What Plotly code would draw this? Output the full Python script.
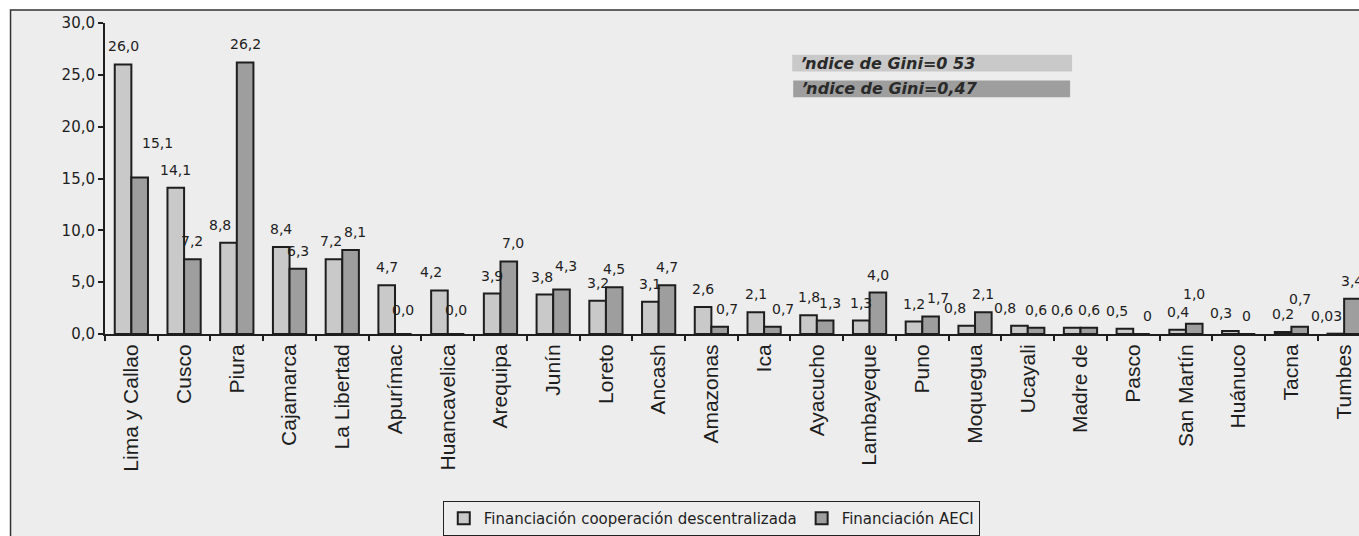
import plotly.graph_objects as go

# Regions (x axis categories)
regiones = [
    "Lima y Callao", "Cusco", "Piura", "Cajamarca", "La Libertad", "Apurímac",
    "Huancavelica", "Arequipa", "Junín", "Loreto", "Ancash", "Amazonas", "Ica",
    "Ayacucho", "Lambayeque", "Puno", "Moquegua", "Ucayali", "Madre de",
    "Pasco", "San Martín", "Huánuco", "Tacna", "Tumbes",
]

# Percent of financing, written as printed on each bar
coop_descentralizada = [
    "26,0", "14,1", "8,8", "8,4", "7,2", "4,7", "4,2", "3,9", "3,8", "3,2",
    "3,1", "2,6", "2,1", "1,8", "1,3", "1,2", "0,8", "0,8", "0,6", "0,5",
    "0,4", "0,3", "0,2", "0,03",
]
aeci = [
    "15,1", "7,2", "26,2", "6,3", "8,1", "0,0", "0,0", "7,0", "4,3", "4,5",
    "4,7", "0,7", "0,7", "1,3", "4,0", "1,7", "2,1", "0,6", "0,6", "0",
    "1,0", "0", "0,7", "3,4",
]

y_ticks = [0, 5, 10, 15, 20, 25, 30]

gini_textos = ["ŉdice de Gini=0 53", "ŉdice de Gini=0,47"]
series_nombres = ["Financiación cooperación descentralizada", "Financiación AECI"]


def to_num(labels):
    return [float(s.replace(",", ".")) for s in labels]


# ---- page geometry (pixels) ----
W, H = 1359, 536
L, R, T, B = 104.5, 0, 23, 199
PW, PH = W - L - R, H - T - B
CAT_PX = 52.75          # width of one category slot
BARGAP = 0.37
BAR_PX = CAT_PX * (1 - BARGAP) / 2
LABEL_GAP = 8           # space between bar top and its value label


def px_x(px):
    return (px - L) / PW


def px_y(py):
    return (H - B - py) / PH


# Value labels moved aside (dx, dy in px) where neighbours would collide
label_offsets = {
    (0, "Piura"): (-9, 0), (0, "Huancavelica"): (-8, 0),
    (0, "La Libertad"): (-3, 0), (0, "Junín"): (-3, 0),
    (0, "Moquegua"): (-12, 0),
    (0, "Ucayali"): (-14, 0), (0, "Madre de"): (-10, 0),
    (0, "Pasco"): (-8, 0), (0, "Huánuco"): (-9, 0), (0, "Tumbes"): (-9, 0),
    (1, "Lima y Callao"): (18, 16), (1, "La Libertad"): (4, 0),
    (1, "Apurímac"): (0, 6), (1, "Huancavelica"): (0, 6),
    (1, "Arequipa"): (4, 0), (1, "Junín"): (4, 5),
    (1, "Amazonas"): (7, 0), (1, "Ica"): (11, 0),
    (1, "Ayacucho"): (5, 0), (1, "Puno"): (7, 0), (1, "Pasco"): (6, 0),
    (1, "San Martín"): (0, 12), (1, "Tacna"): (0, 10),
}

LIGHT = "#c9c9c9"
DARK = "#9e9e9e"
INK = "#1e1e1e"
BG = "#ededed"

fig = go.Figure()
annotations = []
series = [
    (series_nombres[0], coop_descentralizada, LIGHT, -BAR_PX / 2),
    (series_nombres[1], aeci, DARK, BAR_PX / 2),
]
for k, (nombre, etiquetas, color, shift) in enumerate(series):
    valores = to_num(etiquetas)
    fig.add_trace(go.Bar(
        name=nombre,
        x=regiones,
        y=valores,
        marker=dict(color=color, line=dict(color=INK, width=2)),
    ))
    # value labels above each bar
    for reg, val, txt in zip(regiones, valores, etiquetas):
        dx, dy = label_offsets.get((k, reg), (0, 0))
        annotations.append(dict(
            x=reg, y=val, xref="x", yref="y",
            xshift=shift + dx, yshift=LABEL_GAP + dy,
            xanchor="center", yanchor="bottom",
            text=txt, showarrow=False,
            font=dict(family="DejaVu Sans", size=14, color=INK),
        ))

# Chart frame
shapes = [dict(
    type="rect", xref="paper", yref="paper", layer="below",
    x0=px_x(10), x1=px_x(W + 40), y0=px_y(H + 40), y1=px_y(10),
    fillcolor=BG, line=dict(color="#333333", width=1.5),
)]

# Gini index boxes
gini_boxes = [((792, 1072), (55, 72), LIGHT), ((793, 1070), (81, 98), DARK)]
for texto, ((bx0, bx1), (by0, by1), color) in zip(gini_textos, gini_boxes):
    shapes.append(dict(
        type="rect", xref="paper", yref="paper",
        x0=px_x(bx0), x1=px_x(bx1), y0=px_y(by1), y1=px_y(by0),
        fillcolor=color, line=dict(width=0),
    ))
    annotations.append(dict(
        xref="paper", yref="paper", x=px_x(bx0 + 7), y=px_y((by0 + by1) / 2),
        xanchor="left", yanchor="middle", showarrow=False,
        text=f"<b><i>{texto}</i></b>",
        font=dict(family="DejaVu Sans", size=16, color="#2a2a2a"),
    ))

fig.update_layout(
    width=W, height=H,
    margin=dict(l=L, r=R, t=T, b=B),
    paper_bgcolor="white",
    plot_bgcolor=BG,
    separators=",.",
    barmode="group",
    bargap=BARGAP,
    bargroupgap=0,
    font=dict(family="Liberation Sans", color=INK),
    shapes=shapes,
    annotations=annotations,
    legend=dict(
        orientation="h",
        x=px_x(711), xanchor="center",
        y=px_y(506), yanchor="top",
        bgcolor=BG, bordercolor="#222222", borderwidth=1,
        font=dict(family="DejaVu Sans", size=15, color=INK),
        itemwidth=30,
    ),
    xaxis=dict(
        range=[-0.5, -0.5 + PW / CAT_PX],
        tickangle=-90,
        tickson="boundaries",
        ticks="outside", ticklen=5, tickwidth=1.5, tickcolor=INK,
        showline=True, linecolor=INK, linewidth=2,
        showgrid=False,
        tickfont=dict(family="Liberation Sans", size=21, color=INK),
    ),
    yaxis=dict(
        range=[0, 30],
        tickvals=y_ticks,
        tickformat=".1f",
        ticks="outside", ticklen=5, tickwidth=1.5, tickcolor=INK,
        showline=True, linecolor=INK, linewidth=2,
        showgrid=False, zeroline=False,
        tickfont=dict(family="DejaVu Sans", size=15, color=INK),
    ),
)

fig.write_html("out.html")
